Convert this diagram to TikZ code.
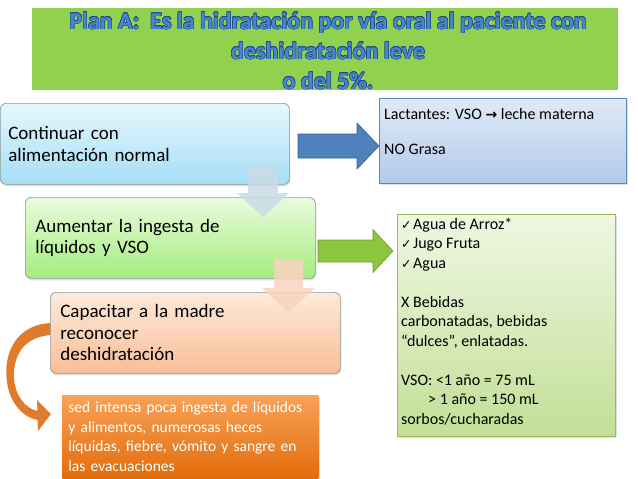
\documentclass[tikz,border=0pt]{standalone}
\usepackage{fontspec}
\setmainfont{Carlito}
\newfontfamily\symfont{DejaVu Sans}
\usepackage[copies]{contour}
\contourlength{0.55pt}
\contournumber{16}
\usetikzlibrary{shadows,calc}
\definecolor{bannergreen}{HTML}{92D050}
\definecolor{titleblue}{HTML}{4A86D0}
\definecolor{titledark}{HTML}{1F4E8C}
\definecolor{b1top}{HTML}{E6F7FD}
\definecolor{b1bot}{HTML}{A5DEF5}
\definecolor{b2top}{HTML}{E9FCDD}
\definecolor{b2bot}{HTML}{A4EC7E}
\definecolor{b3top}{HTML}{FDEADB}
\definecolor{b3bot}{HTML}{F8BE97}
\definecolor{ortop}{HTML}{F7A258}
\definecolor{orbot}{HTML}{E36C0A}
\definecolor{lctop}{HTML}{E0EAF6}
\definecolor{lcbot}{HTML}{B3CAEA}
\definecolor{lcdraw}{HTML}{5B86BE}
\definecolor{gltop}{HTML}{EFF7E3}
\definecolor{glbot}{HTML}{C2DF96}
\definecolor{gldraw}{HTML}{9BBB59}
\definecolor{arblue}{HTML}{4F81BD}
\definecolor{arbluedk}{HTML}{3A5F8C}
\definecolor{argreen}{HTML}{8CC63F}
\definecolor{argreendk}{HTML}{6E9A35}
\definecolor{dnblue}{HTML}{C9DCE6}
\definecolor{dnpeach}{HTML}{F8D3BF}
\definecolor{curveor}{HTML}{E07B2B}
\definecolor{boxline}{HTML}{8C9A94}

% horizontal block arrow: start, tip, shaft half, head half, head length, style
\newcommand{\hblockarrow}[6]{%
  \path[#6] let \p1=(#1), \p2=(#2) in
    (\x1,\y1+#3pt) -- (\x2-#5pt,\y1+#3pt) -- (\x2-#5pt,\y1+#4pt) -- (\x2,\y1)
    -- (\x2-#5pt,\y1-#4pt) -- (\x2-#5pt,\y1-#3pt) -- (\x1,\y1-#3pt) -- cycle;}
% downward block arrow
\newcommand{\vblockarrow}[6]{%
  \path[#6] let \p1=(#1), \p2=(#2) in
    (\x1-#3pt,\y1) -- (\x1-#3pt,\y2+#5pt) -- (\x1-#4pt,\y2+#5pt) -- (\x1,\y2)
    -- (\x1+#4pt,\y2+#5pt) -- (\x1+#3pt,\y2+#5pt) -- (\x1+#3pt,\y1) -- cycle;}
\newcommand{\chk}{\makebox[12pt][l]{\symfont\fontsize{12.5}{12.5}\selectfont ✓}}

\tikzset{
  bigbox/.style={rounded corners=6pt, draw=boxline, line width=0.7pt,
    anchor=north west, align=left, inner ysep=0pt,
    font=\fontsize{19}{21.5}\selectfont,
    drop shadow={opacity=0.25, shadow xshift=1pt, shadow yshift=-2pt}},
  sqbox/.style={line width=0.8pt, anchor=north west, inner sep=0pt,
    drop shadow={opacity=0.25, shadow xshift=1.5pt, shadow yshift=-2pt}},
  smalltext/.style={anchor=north west, align=left, inner sep=0pt},
}

\begin{document}
\begin{tikzpicture}[x=1pt, y=-1pt]
\useasboundingbox (0,0) rectangle (638,479);
\fill[white] (0,0) rectangle (638,479);

% title banner
\node[fill=bannergreen, minimum width=586pt, minimum height=82pt,
      anchor=north west, inner sep=0pt] (banner) at (32,8) {};
\node[align=center, inner sep=0pt, text=titleblue,
      font=\fontsize{24}{30}\selectfont\bfseries] (title) at (328,51)
  {\contour{titledark}{Plan A:\ \ Es la hidratación por vía oral al paciente con}\\
   \contour{titledark}{deshidratación leve}\\
   \contour{titledark}{o del 5\%.}};

% curved orange arrow
\fill[curveor] (52,323) .. controls (15,324) and (3,355) .. (7,382)
  .. controls (10,405) and (25,418) .. (37.5,420) -- (38,431) -- (51,414)
  -- (37,400) -- (37.5,411) .. controls (26,409) and (15,396) .. (14,378)
  .. controls (13,352) and (27,336) .. (52,335) -- cycle;

% main boxes
\node[bigbox, top color=b1top, bottom color=b1bot, minimum width=289pt,
      minimum height=81pt, text width=273pt, inner xsep=8pt] (b1) at (0,103)
  {Continuar con\\alimentación normal};
\node[bigbox, top color=b2top, bottom color=b2bot, minimum width=290pt,
      minimum height=81pt, text width=270pt, inner xsep=10pt] (b2) at (25,197)
  {Aumentar la ingesta de\\líquidos y VSO};
\node[bigbox, top color=b3top, bottom color=b3bot, minimum width=290pt,
      minimum height=81pt, text width=270pt, inner xsep=10pt] (b3) at (50,292)
  {Capacitar a la madre\\reconocer\\deshidratación};

% orange box
\node[sqbox, top color=ortop, bottom color=orbot, draw=none,
      minimum width=256pt, minimum height=83pt, text width=244pt,
      inner xsep=6pt, align=left, text=white,
      font=\fontsize{15.5}{19.5}\selectfont] (ob) at (62,395)
  {sed intensa poca ingesta de líquidos\\y alimentos, numerosas heces\\líquidas, fiebre, vómito y sangre en\\las evacuaciones};

% Lactantes box
\node[sqbox, top color=lctop, bottom color=lcbot, draw=lcdraw,
      minimum width=247pt, minimum height=85pt] (lb) at (379,98) {};
\node[smalltext, font=\fontsize{16}{17.5}\selectfont] (lt) at (384,106.75)
  {\strut Lactantes: VSO {\symfont\fontsize{14}{14}\selectfont\bfseries →} leche materna\\[17.5pt]NO Grasa};

% green list box
\node[sqbox, top color=gltop, bottom color=glbot, draw=gldraw,
      minimum width=218pt, minimum height=222pt] (gb) at (397,214) {};
\node[smalltext, font=\fontsize{16}{19.5}\selectfont] (gt) at (401,215.35)
  {\strut\chk Agua de Arroz*\\
   \chk Jugo Fruta\\
   \chk Agua\\[19.5pt]
   X Bebidas\\
   carbonatadas, bebidas\\
   “dulces”, enlatadas.\\[19.5pt]
   VSO: <1 año = 75 mL\\
   \hspace*{27pt}> 1 año = 150 mL\\
   sorbos/cucharadas};

% horizontal block arrows
\coordinate (a1s) at (298,146);
\coordinate (a1e) at (379,146);
\hblockarrow{a1s}{a1e}{12}{23}{22}{fill=arblue, draw=arbluedk, line width=0.6pt}
\coordinate (a2s) at (318,251);
\coordinate (a2e) at (393,251);
\hblockarrow{a2s}{a2e}{11}{21.5}{20}{fill=argreen, draw=argreendk, line width=0.6pt}

% downward translucent arrows
\coordinate (d1s) at (263,165);
\coordinate (d1e) at (263,217);
\vblockarrow{d1s}{d1e}{15}{26}{24}{fill=dnblue, fill opacity=0.85}
\coordinate (d2s) at (288.5,259);
\coordinate (d2e) at (288.5,312);
\vblockarrow{d2s}{d2e}{14.5}{26.5}{24}{fill=dnpeach, fill opacity=0.85}
\end{tikzpicture}
\end{document}
